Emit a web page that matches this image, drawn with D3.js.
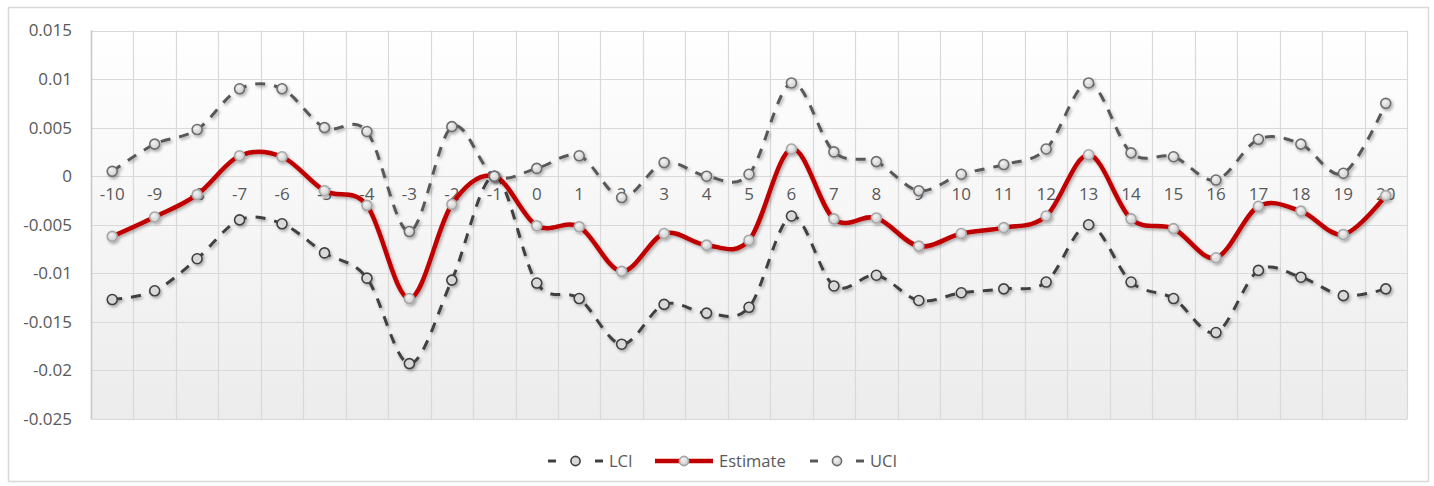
<!DOCTYPE html>
<html>
<head>
<meta charset="utf-8">
<script src="https://cdn.jsdelivr.net/npm/d3@7"></script>
<style>
  html, body { margin: 0; padding: 0; background: #ffffff; }
  svg { display: block; }
  text { font-family: "Open Sans", "Liberation Sans", sans-serif; fill: #595959; }
</style>
</head>
<body>
<svg id="chart" width="1434" height="486"></svg>
<script>
const categories = [-10,-9,-8,-7,-6,-5,-4,-3,-2,-1,0,1,2,3,4,5,6,7,8,9,10,11,12,13,14,15,16,17,18,19,20];
const lci = [-0.0127,-0.0118,-0.0085,-0.0045,-0.0049,-0.0079,-0.0105,-0.0193,-0.0107,0.0000,-0.0110,-0.0126,-0.0173,-0.0132,-0.0141,-0.0135,-0.0041,-0.0113,-0.0102,-0.0128,-0.0120,-0.0116,-0.0109,-0.0050,-0.0109,-0.0126,-0.0161,-0.0097,-0.0104,-0.0123,-0.0116];
const estimate = [-0.0062,-0.0042,-0.0019,0.0021,0.0020,-0.0015,-0.0030,-0.0126,-0.0029,0.0000,-0.0051,-0.0052,-0.0098,-0.0059,-0.0071,-0.0066,0.0028,-0.0044,-0.0043,-0.0072,-0.0059,-0.0053,-0.0041,0.0022,-0.0044,-0.0054,-0.0084,-0.0031,-0.0036,-0.0060,-0.0020];
const uci = [0.0005,0.0033,0.0048,0.0090,0.0090,0.0050,0.0046,-0.0057,0.0051,0.0000,0.0008,0.0021,-0.0022,0.0014,0.0000,0.0002,0.0096,0.0025,0.0015,-0.0015,0.0002,0.0012,0.0028,0.0096,0.0024,0.0020,-0.0004,0.0038,0.0033,0.0003,0.0075];
const yTicks = [0.015,0.01,0.005,0,-0.005,-0.01,-0.015,-0.02,-0.025];
const seriesNames = ["LCI","Estimate","UCI"];

const svg = d3.select("#chart");
const plot = {left: 91, right: 1407, top: 30.5, bottom: 419};

const defs = svg.append("defs");
const bg = defs.append("linearGradient").attr("id","bg").attr("x1",0).attr("y1",0).attr("x2",0).attr("y2",1);
bg.append("stop").attr("offset","0%").attr("stop-color","#ffffff");
bg.append("stop").attr("offset","100%").attr("stop-color","#ececec");
const mg = defs.append("radialGradient").attr("id","mk").attr("cx","40%").attr("cy","35%").attr("r","70%");
mg.append("stop").attr("offset","0%").attr("stop-color","#f4f4f4");
mg.append("stop").attr("offset","100%").attr("stop-color","#c8c8c8");
const f = defs.append("filter").attr("id","sh").attr("x","-10%").attr("y","-10%").attr("width","130%").attr("height","130%");
f.append("feDropShadow").attr("dx",1.5).attr("dy",2).attr("stdDeviation",1.6)
  .attr("flood-color","#000").attr("flood-opacity",0.3);

svg.append("rect").attr("x",8.5).attr("y",7.5).attr("width",1420).attr("height",474)
  .attr("fill","#ffffff").attr("stroke","#d9d9d9").attr("stroke-width",1.5);

const x = d3.scaleBand().domain(categories).range([plot.left, plot.right]).paddingInner(0).paddingOuter(0);
const y = d3.scaleLinear().domain([-0.025, 0.015]).range([plot.bottom, plot.top]);
const cx = d => x(d) + x.bandwidth()/2;

svg.append("rect").attr("x",plot.left).attr("y",plot.top).attr("width",plot.right-plot.left)
  .attr("height",plot.bottom-plot.top).attr("fill","url(#bg)");

svg.append("g").selectAll("line").data(yTicks).join("line")
  .attr("x1",plot.left).attr("x2",plot.right)
  .attr("y1",d=>Math.round(y(d))+0.5).attr("y2",d=>Math.round(y(d))+0.5)
  .attr("stroke","#d9d9d9").attr("stroke-width",1.2);
const bounds = categories.map(c => x(c)).concat([plot.right]);
svg.append("g").selectAll("line").data(bounds).join("line")
  .attr("x1",d=>Math.round(d)+0.5).attr("x2",d=>Math.round(d)+0.5)
  .attr("y1",plot.top).attr("y2",plot.bottom)
  .attr("stroke","#d9d9d9").attr("stroke-width",1.2);
svg.append("line").attr("x1",plot.left+0.5).attr("x2",plot.left+0.5).attr("y1",plot.top).attr("y2",plot.bottom)
  .attr("stroke","#c8c8c8").attr("stroke-width",1.5);

const yAxis = d3.axisLeft(y).tickValues(yTicks).tickSize(0).tickPadding(19)
  .tickFormat(d => d === 0 ? "0" : String(+d.toFixed(3)));
const gy = svg.append("g").attr("transform",`translate(${plot.left},0)`).call(yAxis);
gy.select(".domain").remove();
gy.selectAll("text").attr("font-size","17px").attr("fill","#595959")
  .style("font-family",'"Open Sans", sans-serif');

const xAxis = d3.axisBottom(x).tickSize(0).tickPadding(12);
const gx = svg.append("g").attr("transform",`translate(0,${y(0)})`).call(xAxis);
gx.select(".domain").remove();
gx.selectAll("text").attr("font-size","17px").attr("fill","#595959")
  .style("font-family",'"Open Sans", sans-serif');

const line = d3.line().x((d,i)=>cx(categories[i])).y(d=>y(d)).curve(d3.curveCardinal.tension(0));

const styles = {
  LCI: {data: lci, stroke: "#404040", width: 3, dash: "10,9", mstroke: "#404040", mfill: "#d9d9d9"},
  Estimate: {data: estimate, stroke: "#c00000", width: 4.5, dash: null, mstroke: "#a6a6a6", mfill: "url(#mk)"},
  UCI: {data: uci, stroke: "#595959", width: 3, dash: "10,9", mstroke: "#6e6e6e", mfill: "url(#mk)"}
};

seriesNames.forEach(name => {
  const s = styles[name];
  const g = svg.append("g").attr("filter","url(#sh)");
  g.append("path").attr("d", line(s.data)).attr("fill","none")
    .attr("stroke", s.stroke).attr("stroke-width", s.width)
    .attr("stroke-dasharray", s.dash).attr("stroke-linecap", s.dash ? "butt" : "round");
  g.selectAll("circle").data(s.data).join("circle")
    .attr("cx",(d,i)=>cx(categories[i])).attr("cy",d=>y(d)).attr("r",5)
    .attr("fill", s.mfill).attr("stroke", s.mstroke).attr("stroke-width",1.6);
});

const legendY = 461;
const legendItems = [
  {name:"LCI", x0:548, x1:603, tx:609},
  {name:"Estimate", x0:655, x1:713, tx:719},
  {name:"UCI", x0:810, x1:864, tx:870}
];
legendItems.forEach(it => {
  const s = styles[it.name];
  const g = svg.append("g");
  const mid = (it.x0 + it.x1)/2;
  if (s.dash) {
    g.append("line").attr("x1",it.x0).attr("x2",it.x0+8).attr("y1",legendY).attr("y2",legendY)
      .attr("stroke",s.stroke).attr("stroke-width",s.width);
    g.append("line").attr("x1",it.x1-8).attr("x2",it.x1).attr("y1",legendY).attr("y2",legendY)
      .attr("stroke",s.stroke).attr("stroke-width",s.width);
  } else {
    g.append("line").attr("x1",it.x0).attr("x2",it.x1).attr("y1",legendY).attr("y2",legendY)
      .attr("stroke",s.stroke).attr("stroke-width",s.width);
  }
  g.append("circle").attr("cx",mid).attr("cy",legendY).attr("r",4.6)
    .attr("fill",s.mfill).attr("stroke",s.mstroke).attr("stroke-width",1.6);
  g.append("text").attr("x",it.tx).attr("y",legendY).attr("dy","0.35em")
    .attr("font-size","16.5px").text(it.name);
});
</script>
</body>
</html>
